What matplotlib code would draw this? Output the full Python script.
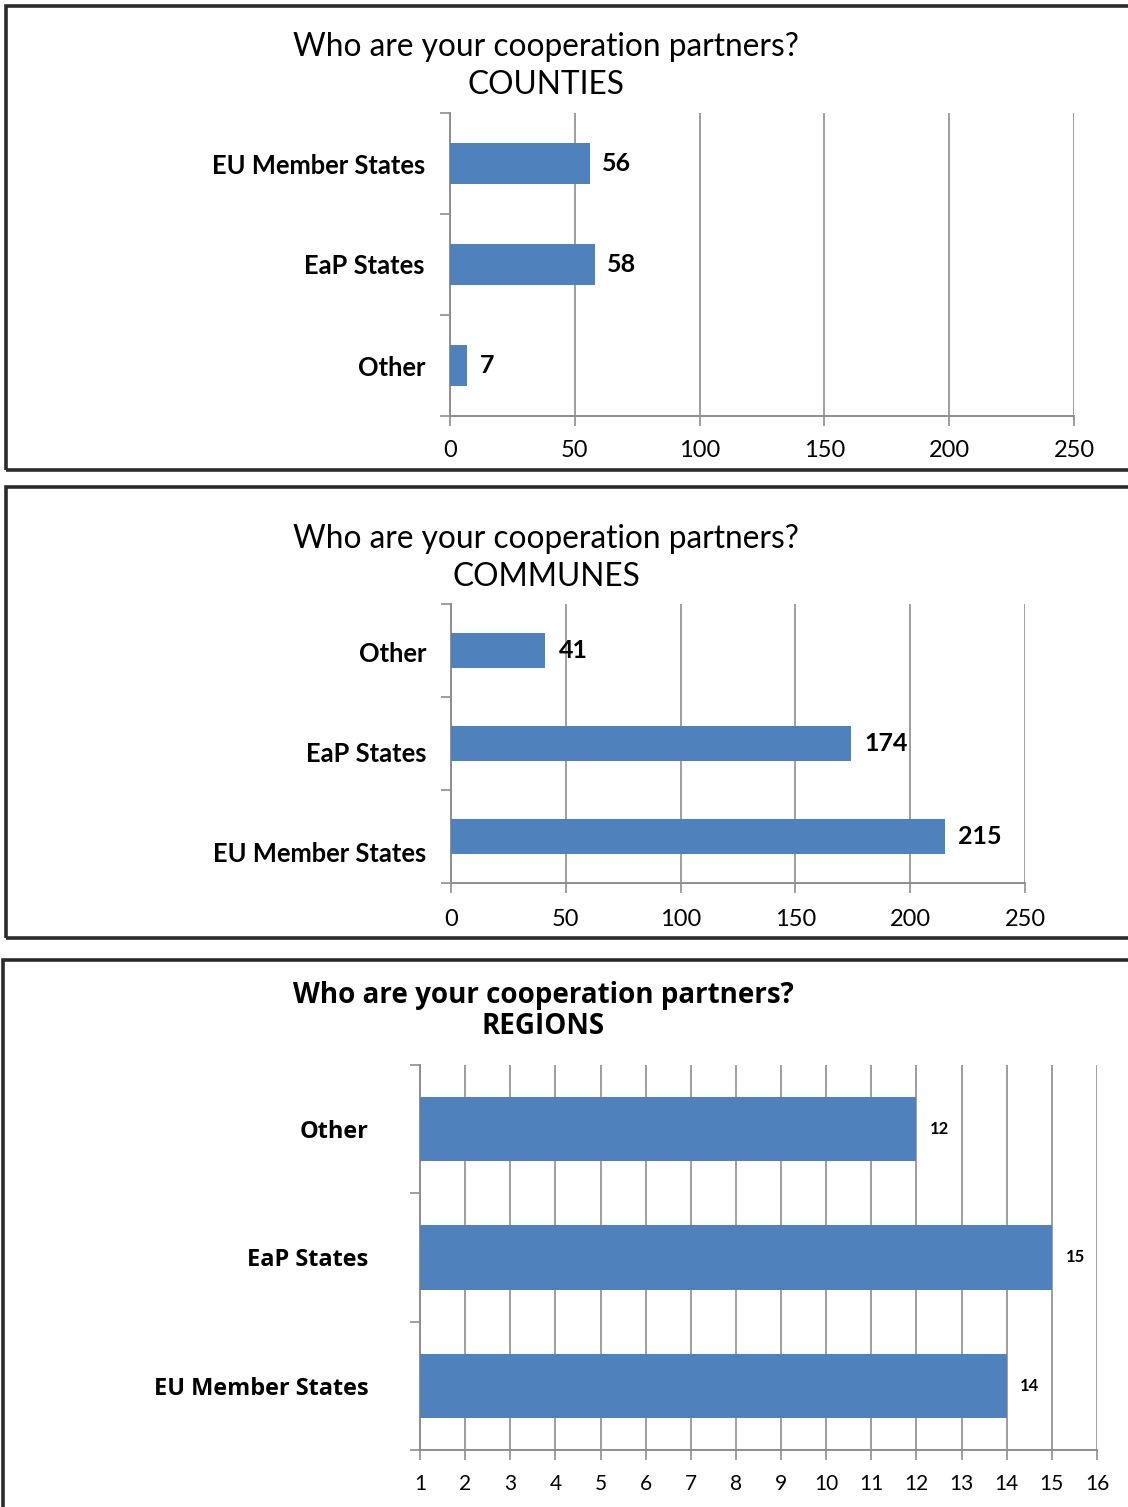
import matplotlib
matplotlib.use("Agg")
import matplotlib.pyplot as plt
from matplotlib.patches import Rectangle
from matplotlib.ticker import FixedLocator
from matplotlib.transforms import ScaledTranslation

# Survey answers: number of cooperation partners by group
counties_cats = ["EU Member States", "EaP States", "Other"]
counties_vals = [56, 58, 7]

communes_cats = ["Other", "EaP States", "EU Member States"]
communes_vals = [41, 174, 215]

regions_cats = ["Other", "EaP States", "EU Member States"]
regions_vals = [12, 15, 14]

counties_ticks = [0, 50, 100, 150, 200, 250]
communes_ticks = [0, 50, 100, 150, 200, 250]
regions_ticks = list(range(1, 17))

BAR = "#4F81BD"
GRID = "#8E8E8E"
W, H = 1128, 1507

fig = plt.figure(figsize=(W / 100, H / 100), dpi=100)
fig.patch.set_facecolor("white")


def fx(px):
    return px / W


def fy(py):
    return 1 - py / H


def frame(x0, y0, x1, y1):
    fig.patches.append(Rectangle((fx(x0), fy(y1)), fx(x1 - x0), (y1 - y0) / H,
                                 transform=fig.transFigure, fill=False,
                                 edgecolor="#2b2b2b", linewidth=2.6))


def panel(box, cats, vals, ticks, xmin, xmax, bar_h, title, title_xy,
          lab, tick_font, tick_size, val, tick_pad):
    left, top, right, bottom = box
    lab_font, lab_size, lab_weight, lab_pad = lab
    val_font, val_size, val_pad = val
    ax = fig.add_axes([fx(left), fy(bottom), fx(right - left), (bottom - top) / H])
    n = len(cats)
    ypos = list(range(n))[::-1]
    ax.barh(ypos, [v - xmin for v in vals], left=xmin, height=bar_h,
            color=BAR, edgecolor="none", zorder=3)
    for y, v in zip(ypos, vals):
        ax.text(v + val_pad, y, str(v), va="center", ha="left",
                fontsize=val_size, fontweight="bold", family=val_font,
                color="black", zorder=4)
    ax.set_xlim(xmin, xmax)
    ax.set_ylim(-0.5, n - 0.5)
    ax.set_xticks(ticks)
    ax.set_xticklabels([str(t) for t in ticks], family=tick_font, fontsize=tick_size)
    ax.set_yticks(ypos)
    ax.set_yticklabels(cats, family=lab_font, fontsize=lab_size, fontweight=lab_weight)
    ax.yaxis.set_minor_locator(FixedLocator([i - 0.5 for i in range(n + 1)]))
    ax.tick_params(axis="y", which="major", length=0, pad=lab_pad)
    ax.tick_params(axis="y", which="minor", length=7, color=GRID, width=1.2)
    ax.tick_params(axis="x", length=7, color=GRID, width=1.2, pad=tick_pad)
    ax.xaxis.grid(True, color=GRID, linewidth=1.2, zorder=0)
    for s in ("top", "right"):
        ax.spines[s].set_visible(False)
    for s in ("left", "bottom"):
        ax.spines[s].set_color(GRID)
        ax.spines[s].set_linewidth(1.4)
    tx, ty1, ty2 = title_xy
    text1, text2, tfont, tsize, tweight = title
    fig.text(fx(tx), fy(ty1), text1, ha="center", va="center",
             family=tfont, fontsize=tsize, fontweight=tweight)
    fig.text(fx(tx), fy(ty2), text2, ha="center", va="center",
             family=tfont, fontsize=tsize, fontweight=tweight)
    return ax


frame(6, 6, 1140, 470)
frame(6, 487, 1140, 938)
frame(3, 960, 1140, 1520)

panel((450, 113, 1074, 416), counties_cats, counties_vals, counties_ticks,
      0, 250, 0.4,
      ("Who are your cooperation partners?", "COUNTIES", "Lato", 22.8, "normal"),
      (546, 47, 85), ("Lato", 18.4, "bold", 18), "Lato", 17, ("Lato", 18, 5), 10)

ax2 = panel((451, 604, 1025, 883), communes_cats, communes_vals, communes_ticks,
            0, 250, 0.38,
            ("Who are your cooperation partners?", "COMMUNES", "Lato", 22.8, "normal"),
            (546, 539, 577), ("Lato", 18.4, "bold", 18), "Lato", 17, ("Lato", 18, 6), 12)
# the lower category labels of this panel sit a little below their bars
for lbl, dy in zip(ax2.get_yticklabels(), [-1, -8, -15]):
    lbl.set_transform(lbl.get_transform() + ScaledTranslation(0, dy / 100, fig.dpi_scale_trans))

panel((420, 1065, 1097, 1450), regions_cats, regions_vals, regions_ticks,
      1, 16, 0.5,
      ("Who are your cooperation partners?", "REGIONS", "Open Sans", 20, "bold"),
      (543, 996, 1027), ("Open Sans", 16.9, "bold", 37), "Lato", 15,
      ("Lato", 12, 0.3), 10)

fig.savefig("out.png", dpi=100, facecolor="white")
